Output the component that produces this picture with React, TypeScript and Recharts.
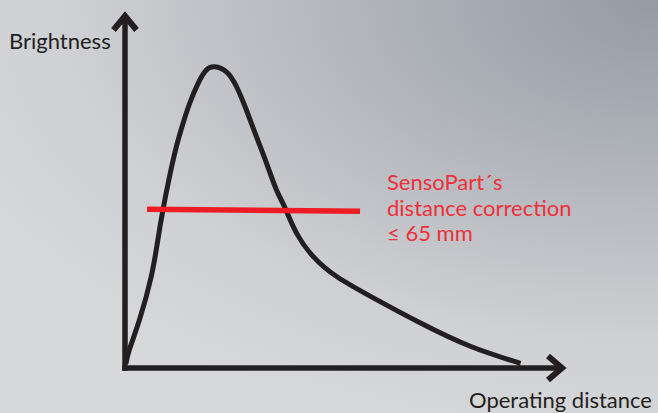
import React from "react";
import { LineChart, Line, XAxis, YAxis, ReferenceLine } from "recharts";

// Brightness vs. operating distance curve (relative units 0-100)
const distance = [0.2, 1.0, 3.3, 5.95, 7.45, 8.6, 10.1, 11.65, 13.15, 14.65, 16.55, 18.45, 20.35, 23.0, 25.3, 27.55, 29.8, 32.1, 34.35, 36.25, 38.9, 42.7, 48.0, 56.3, 66.9, 78.3, 89.7];
const brightness = [1.2, 5.2, 13.6, 25.7, 36.0, 44.4, 53.8, 62.2, 68.7, 74.3, 79.9, 83.7, 84.6, 83.2, 79.0, 72.4, 65.0, 57.5, 50.0, 45.1, 37.9, 31.3, 25.7, 19.7, 12.7, 6.1, 1.3];

// SensoPart's distance correction band (red line)
const correctionX = [5.0, 53.3];
const correctionY = [44.6, 44.0];

const axisX = [0, 100];
const axisY = [0, 100];

const yLabel = "Brightness";
const xLabel = "Operating distance";
const noteLines = ["SensoPart´s", "distance correction", "≤ 65 mm"];

const curveData = distance.map((d, i) => ({ x: d, y: brightness[i] }));
const correctionData = correctionX.map((d, i) => ({ x: d, y: correctionY[i] }));

const INK = "#231f20";
const RED = "#ed1c24";
const FONT = "Lato, 'Open Sans', sans-serif";

const ArrowAxis = (props: any) => {
  const { x1, y1, x2, y2 } = props;
  const horizontal = Math.abs(y2 - y1) < Math.abs(x2 - x1);
  const w = 5.5;
  if (horizontal) {
    const tip = x2 - 2;
    return (
      <g>
        <line x1={x1 - w / 2} y1={y1} x2={tip - 3} y2={y2} stroke={INK} strokeWidth={w} />
        <polyline points={`${tip - 16},${y2 - 12} ${tip - 2},${y2} ${tip - 16},${y2 + 12}`} fill="none" stroke={INK} strokeWidth={6} strokeLinejoin="miter" />
      </g>
    );
  }
  const tip = y2 + 2;
  return (
    <g>
      <line x1={x1} y1={y1 + w / 2} x2={x2} y2={tip + 3} stroke={INK} strokeWidth={w} />
      <polyline points={`${x2 - 11.5},${tip + 16} ${x2},${tip + 2} ${x2 + 11.5},${tip + 16}`} fill="none" stroke={INK} strokeWidth={6} strokeLinejoin="miter" />
    </g>
  );
};

export default function App() {
  return (
    <div
      style={{
        position: "absolute",
        left: 0,
        top: 0,
        width: 658,
        height: 413,
        overflow: "hidden",
        background:
          "radial-gradient(ellipse 120% 110% at 100% 0%, #959aa5 0%, #b3b6bc 40%, #cfd0d3 75%, #d7d8da 100%)",
      }}
    >
      <LineChart
        width={658}
        height={413}
        margin={{ top: 12, right: 92, bottom: 45, left: 125 }}
        style={{ position: "absolute", left: 0, top: 0 }}
      >
        <XAxis type="number" dataKey="x" domain={axisX} hide allowDataOverflow />
        <YAxis type="number" dataKey="y" domain={axisY} hide allowDataOverflow />
        <ReferenceLine segment={[{ x: axisX[0], y: axisY[0] }, { x: axisX[1], y: axisY[0] }]} shape={ArrowAxis} ifOverflow="visible" />
        <ReferenceLine segment={[{ x: axisX[0], y: axisY[0] }, { x: axisX[0], y: axisY[1] }]} shape={ArrowAxis} ifOverflow="visible" />
        <Line
          data={curveData}
          dataKey="y"
          type="natural"
          stroke={INK}
          strokeWidth={5}
          dot={false}
          activeDot={false}
          isAnimationActive={false}
        />
        <Line
          data={correctionData}
          dataKey="y"
          type="linear"
          stroke={RED}
          strokeWidth={5.5}
          strokeLinecap="butt"
          dot={false}
          activeDot={false}
          isAnimationActive={false}
        />
      </LineChart>
      <svg width={658} height={413} style={{ position: "absolute", left: 0, top: 0, pointerEvents: "none" }}>
        <text x={9} y={49} fontFamily={FONT} fontSize={22} fill={INK}>{yLabel}</text>
        <text x={652} y={408} textAnchor="end" fontFamily={FONT} fontSize={22} fill={INK}>{xLabel}</text>
        {noteLines.map((t, i) => (
          <text key={i} x={387} y={190 + i * 25.7} fontFamily={FONT} fontSize={22} fill="#ee3039">{t}</text>
        ))}
      </svg>
    </div>
  );
}
